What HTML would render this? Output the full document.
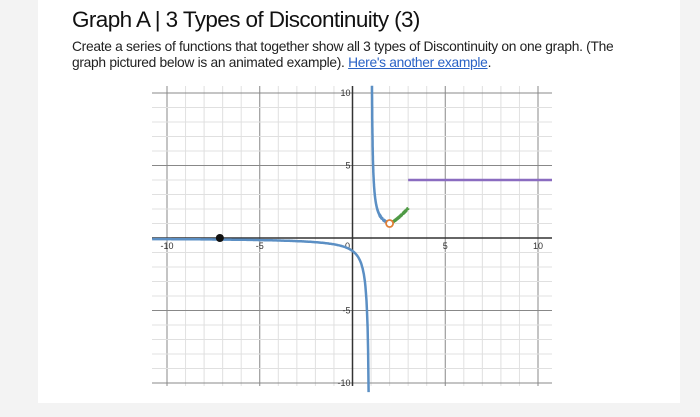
<!DOCTYPE html>
<html><head><meta charset="utf-8"><style>
body{margin:0;width:700px;height:417px;background:#f3f3f3;font-family:"Liberation Sans",sans-serif;overflow:hidden;position:relative}
#card{position:absolute;left:38px;top:0;width:642px;height:403px;background:#fff}
h1{position:absolute;left:72px;top:7px;margin:0;font-weight:normal;font-size:22.5px;color:#111;letter-spacing:-0.6px;white-space:nowrap}
p{position:absolute;left:72px;top:39px;margin:0;font-size:13.8px;line-height:16px;color:#222;width:585px;letter-spacing:-0.3px}
a{color:#2a63c6}
svg{position:absolute;left:0;top:0}
</style></head><body>
<div id="card"></div>
<h1>Graph A | 3 Types of Discontinuity (3)</h1>
<p>Create a series of functions that together show all 3 types of Discontinuity on one graph. (The<br>graph pictured below is an animated example). <a href="#">Here's another example</a>.</p>
<svg id="g" width="700" height="417"></svg>
<script>
const xTicks=[-10,-5,0,5,10];
const yTicks=[-10,-5,5,10];
const holePoint=[2,1];
const dotPoint=[-7.15,0];
const stepY=[4];
const stepStart=[3];
const greenEnd=[3,2.05];
const X0=152,X1=552,Y0=86,Y1=386;
const sx=x=>352.5+x*18.55, sy=y=>238-y*14.5;
const svg=document.getElementById('g');const NS='http://www.w3.org/2000/svg';
function el(t,a){const e=document.createElementNS(NS,t);for(const k in a)e.setAttribute(k,a[k]);svg.appendChild(e);return e;}
for(let i=-11;i<=11;i++){const x=sx(i);if(x<X0||x>X1)continue;const l=el('line',{x1:x,x2:x,y1:Y0,y2:Y1,stroke:i%5==0?'#888':'#e0e0e0','stroke-width':1});}
for(let i=-11;i<=11;i++){const y=sy(i);if(y<Y0||y>Y1)continue;const l=el('line',{x1:X0,x2:X1,y1:y,y2:y,stroke:i%5==0?'#888':'#e0e0e0','stroke-width':1});}
let a=el('line',{x1:X0,x2:X1,y1:sy(0),y2:sy(0),stroke:'#333','stroke-width':1.5});
a=el('line',{x1:sx(0),x2:sx(0),y1:Y0,y2:Y1,stroke:'#333','stroke-width':1.5});
xTicks.forEach(v=>{const t=el('text',{x:sx(v)-(v==0?5:0),y:sy(0)+11,'font-size':9,'text-anchor':'middle',fill:'#333'});t.textContent=v;});
yTicks.forEach(v=>{const t=el('text',{x:sx(0)-2,y:sy(v)+3,'font-size':9,'text-anchor':'end',fill:'#333'});t.textContent=v;});
function path(f,a0,a1,col,name){let d='';for(let i=0;i<=400;i++){const x=a0+(a1-a0)*i/400;const y=f(x);d+=(i?'L':'M')+sx(x).toFixed(1)+','+sy(y).toFixed(1);}const p=el('path',{d:d,fill:'none',stroke:col,'stroke-width':2.5});}
path(x=>-0.85/(0.95-x),-10.8,0.87,'#5b8fc4','blue-left-branch');
path(x=>0.5/(x-1)+0.5,1.05,holePoint[0],'#5b8fc4','blue-right-branch');
path(x=>holePoint[1]+(greenEnd[1]-holePoint[1])*Math.pow((x-holePoint[0])/(greenEnd[0]-holePoint[0]),1.3),holePoint[0],greenEnd[0],'#4f9a45','green-segment');
const s=el('line',{x1:sx(stepStart[0]),x2:X1,y1:sy(stepY[0]),y2:sy(stepY[0]),stroke:'#8a6cc0','stroke-width':2.5});
const h=el('circle',{cx:sx(holePoint[0]),cy:sy(holePoint[1]),r:3.5,fill:'#fff',stroke:'#e07f38','stroke-width':1.8});
const d=el('circle',{cx:sx(dotPoint[0]),cy:sy(dotPoint[1]),r:4,fill:'#111'});
</script>
</body></html>
